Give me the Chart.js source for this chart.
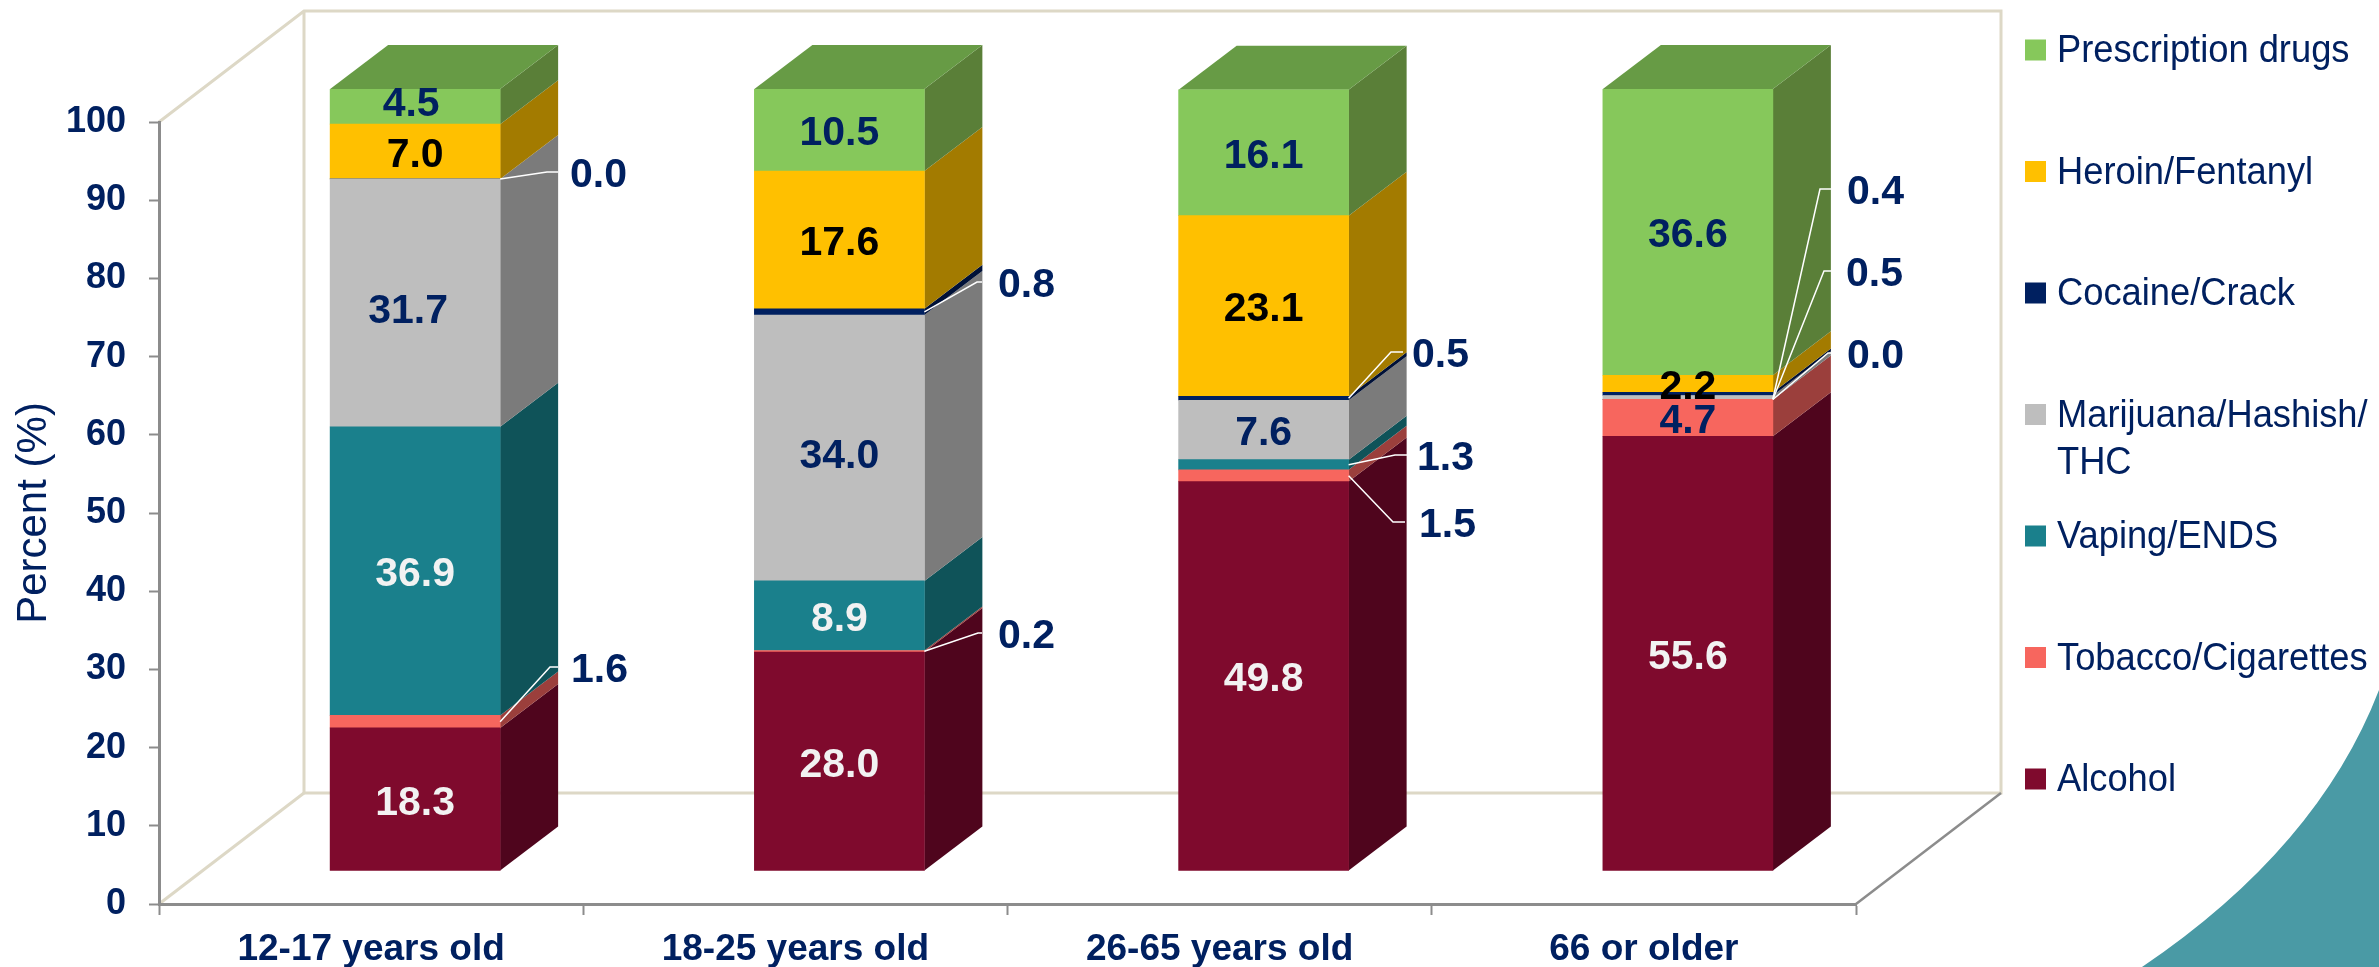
<!DOCTYPE html>
<html>
<head>
<meta charset="utf-8">
<title>Percent by age group</title>
<script src="https://cdn.jsdelivr.net/npm/chart.js@4"></script>
<style>
  html, body { margin: 0; padding: 0; background: #fff; }
  canvas { display: block; }
</style>
</head>
<body>
<canvas id="chart" width="2379" height="967"></canvas>
<script>
const categories = ['12-17 years old', '18-25 years old', '26-65 years old', '66 or older'];

const alcohol = [18.3, 28.0, 49.8, 55.6];
const tobacco = [1.6, 0.2, 1.5, 4.7];
const vaping = [36.9, 8.9, 1.3, 0.0];
const marijuana = [31.7, 34.0, 7.6, 0.5];
const cocaine = [0.0, 0.8, 0.5, 0.4];
const heroin = [7.0, 17.6, 23.1, 2.2];
const prescription = [4.5, 10.5, 16.1, 36.6];

const seriesNames = ['Alcohol', 'Tobacco/Cigarettes', 'Vaping/ENDS', 'Marijuana/Hashish/', 'Cocaine/Crack', 'Heroin/Fentanyl', 'Prescription drugs'];
const seriesValues = [alcohol, tobacco, vaping, marijuana, cocaine, heroin, prescription];
const frontColors = ['#7F0A2D', '#F7665E', '#1A808C', '#BEBEBE', '#002060', '#FFC000', '#86C85B'];
const sideColors = ['#4F051D', '#9B3F3C', '#0F5359', '#7B7B7B', '#001138', '#A37B00', '#5A7F38'];
const labelColors = ['#F2F2F2', '#002060', '#F2F2F2', '#002060', '#002060', '#000000', '#002060'];
const topColor = '#679B45';

const NAVY = '#002060';
const CREAM = '#DDD8C6';
const AXIS_GRAY = '#8C8C8C';
const FONT = '"Liberation Sans", Arial, sans-serif';

// 3D look: floor depth, and where the bars sit on the floor
const floorDx = 145, floorDy = -111;
const barDx = 44, barDy = -33;
const sideDx = 58, sideDy = -44;

// small values labelled outside the bar: [series, category, text x, text y, elbow x, line end x, start shift]
const callouts = [
  [4, 0, 570, 173, 547, 558, 0],
  [1, 0, 571, 668, 550, 558, 0],
  [4, 1, 998, 283, 977, 982, 0],
  [1, 1, 998, 634, 978, 982, 0],
  [4, 2, 1412, 353, 1391, 1403, 0],
  [2, 2, 1417, 456, 1395, 1407, 0],
  [1, 2, 1419, 523, 1393, 1405, 0],
  [4, 3, 1847, 190, 1820, 1831, 5],
  [3, 3, 1846, 272, 1824, 1831, 2],
  [2, 3, 1847, 354, 1828, 1831, 0]
];

// hand moved labels inside the bars, by series then category
const labelNudge = {
  '3-0': [-7, 5],
  '3-1': [0, 5],
  '6-0': [-4, -6]
};

// legend rows, top to bottom
const legendOrder = [6, 5, 4, 3, 2, 1, 0];

const datasets = seriesNames.map((name, i) => ({
  label: name,
  data: seriesValues[i],
  backgroundColor: frontColors[i],
  borderWidth: 0,
  barThickness: 170
}));

function line(ctx, pts, color, width) {
  ctx.beginPath();
  pts.forEach((p, i) => (i ? ctx.lineTo(p[0], p[1]) : ctx.moveTo(p[0], p[1])));
  ctx.strokeStyle = color;
  ctx.lineWidth = width;
  ctx.stroke();
}

function poly(ctx, pts, color) {
  ctx.beginPath();
  pts.forEach((p, i) => (i ? ctx.lineTo(p[0], p[1]) : ctx.moveTo(p[0], p[1])));
  ctx.closePath();
  ctx.fillStyle = color;
  ctx.fill();
}

// the reference legend text is a bit narrower than the plain font
function legendText(ctx, text, x, y) {
  ctx.fillText(text, x, y, ctx.measureText(text).width * 0.955);
}

const backdrop = {
  id: 'backdrop',
  beforeDraw(chart) {
    const { ctx, chartArea: a } = chart;
    ctx.save();
    // teal corner shape of the slide
    ctx.beginPath();
    ctx.moveTo(2142, 967);
    ctx.quadraticCurveTo(2318, 848, 2379, 690);
    ctx.lineTo(2379, 967);
    ctx.closePath();
    ctx.fillStyle = '#4A9AA5';
    ctx.fill();
    // back wall and floor
    const bx = floorDx, by = floorDy;
    line(ctx, [[a.left, a.top], [a.left + bx, a.top + by], [a.right + bx, a.top + by], [a.right + bx, a.bottom + by], [a.left + bx, a.bottom + by], [a.left + bx, a.top + by]], CREAM, 3);
    line(ctx, [[a.left, a.bottom], [a.left + bx, a.bottom + by]], CREAM, 3);
    line(ctx, [[a.right, a.bottom], [a.right + bx, a.bottom + by]], AXIS_GRAY, 2.5);
    ctx.restore();
  },
  beforeDatasetsDraw(chart) {
    const { ctx } = chart;
    ctx.save();
    ctx.translate(barDx, barDy);
    // side faces, then the top of each stack
    chart.data.datasets.forEach((ds, d) => {
      chart.getDatasetMeta(d).data.forEach(bar => {
        const r = bar.x + bar.width / 2;
        poly(ctx, [[r, bar.y], [r + sideDx, bar.y + sideDy], [r + sideDx, bar.base + sideDy], [r, bar.base]], sideColors[d]);
      });
    });
    const last = chart.getDatasetMeta(chart.data.datasets.length - 1).data;
    last.forEach(bar => {
      const l = bar.x - bar.width / 2, r = bar.x + bar.width / 2;
      poly(ctx, [[l, bar.y], [r, bar.y], [r + sideDx, bar.y + sideDy], [l + sideDx, bar.y + sideDy]], topColor);
    });
  },
  afterDatasetsDraw(chart) {
    const { ctx } = chart;
    ctx.restore();

    const outside = {};
    callouts.forEach(c => { outside[c[0] + '-' + c[1]] = true; });

    ctx.save();
    ctx.textBaseline = 'middle';
    ctx.font = 'bold 41px ' + FONT;

    // values inside the bars
    ctx.textAlign = 'center';
    chart.data.datasets.forEach((ds, d) => {
      chart.getDatasetMeta(d).data.forEach((bar, c) => {
        const key = d + '-' + c;
        if (outside[key]) return;
        const n = labelNudge[key] || [0, 0];
        ctx.fillStyle = labelColors[d];
        ctx.fillText(seriesValues[d][c].toFixed(1), bar.x + barDx + n[0], (bar.y + bar.base) / 2 + barDy + n[1] + 4);
      });
    });

    // leader lines and outside values
    ctx.textAlign = 'left';
    callouts.forEach(([d, c, tx, ty, ex, endX, shift]) => {
      const bar = chart.getDatasetMeta(d).data[c];
      const sx = bar.x + bar.width / 2 + barDx;
      const sy = (bar.y + bar.base) / 2 + barDy + shift;
      line(ctx, [[sx, sy], [ex, ty - 1], [endX, ty - 1]], '#FFFFFF', 1.5);
      ctx.fillStyle = NAVY;
      ctx.fillText(seriesValues[d][c].toFixed(1), tx, ty + 3);
    });

    // legend
    ctx.font = '38px ' + FONT;
    legendOrder.forEach((d, row) => {
      const cy = 50 + row * 121.5;
      ctx.fillStyle = frontColors[d];
      ctx.fillRect(2025, cy - 10.5, 21, 21);
      ctx.fillStyle = NAVY;
      legendText(ctx, seriesNames[d], 2057, cy + 2);
      if (d === 3) legendText(ctx, 'THC', 2057, cy + 49);
    });
    ctx.restore();
  }
};

new Chart(document.getElementById('chart').getContext('2d'), {
  type: 'bar',
  data: { labels: categories, datasets },
  plugins: [backdrop],
  options: {
    responsive: false,
    animation: false,
    layout: { padding: { top: 122, right: 523, left: 0, bottom: 0 } },
    plugins: { legend: { display: false }, tooltip: { enabled: false } },
    scales: {
      x: {
        stacked: true,
        afterFit: s => { s.height = 63; },
        grid: { drawOnChartArea: false, tickLength: 11, tickColor: AXIS_GRAY, tickWidth: 2 },
        border: { color: AXIS_GRAY, width: 3 },
        ticks: { color: NAVY, font: { family: FONT, size: 37, weight: 'bold' }, padding: 13, maxRotation: 0 }
      },
      y: {
        stacked: true,
        min: 0,
        max: 100,
        afterFit: s => { s.width = 159; },
        grid: { drawOnChartArea: false, tickLength: 10, tickColor: AXIS_GRAY, tickWidth: 2 },
        border: { color: AXIS_GRAY, width: 3 },
        ticks: { stepSize: 10, color: NAVY, font: { family: FONT, size: 36, weight: 'bold' }, padding: 23 },
        title: { display: true, text: 'Percent (%)', color: NAVY, font: { family: FONT, size: 42 }, padding: { top: 9, bottom: 0 } }
      }
    }
  }
});
</script>
</body>
</html>
